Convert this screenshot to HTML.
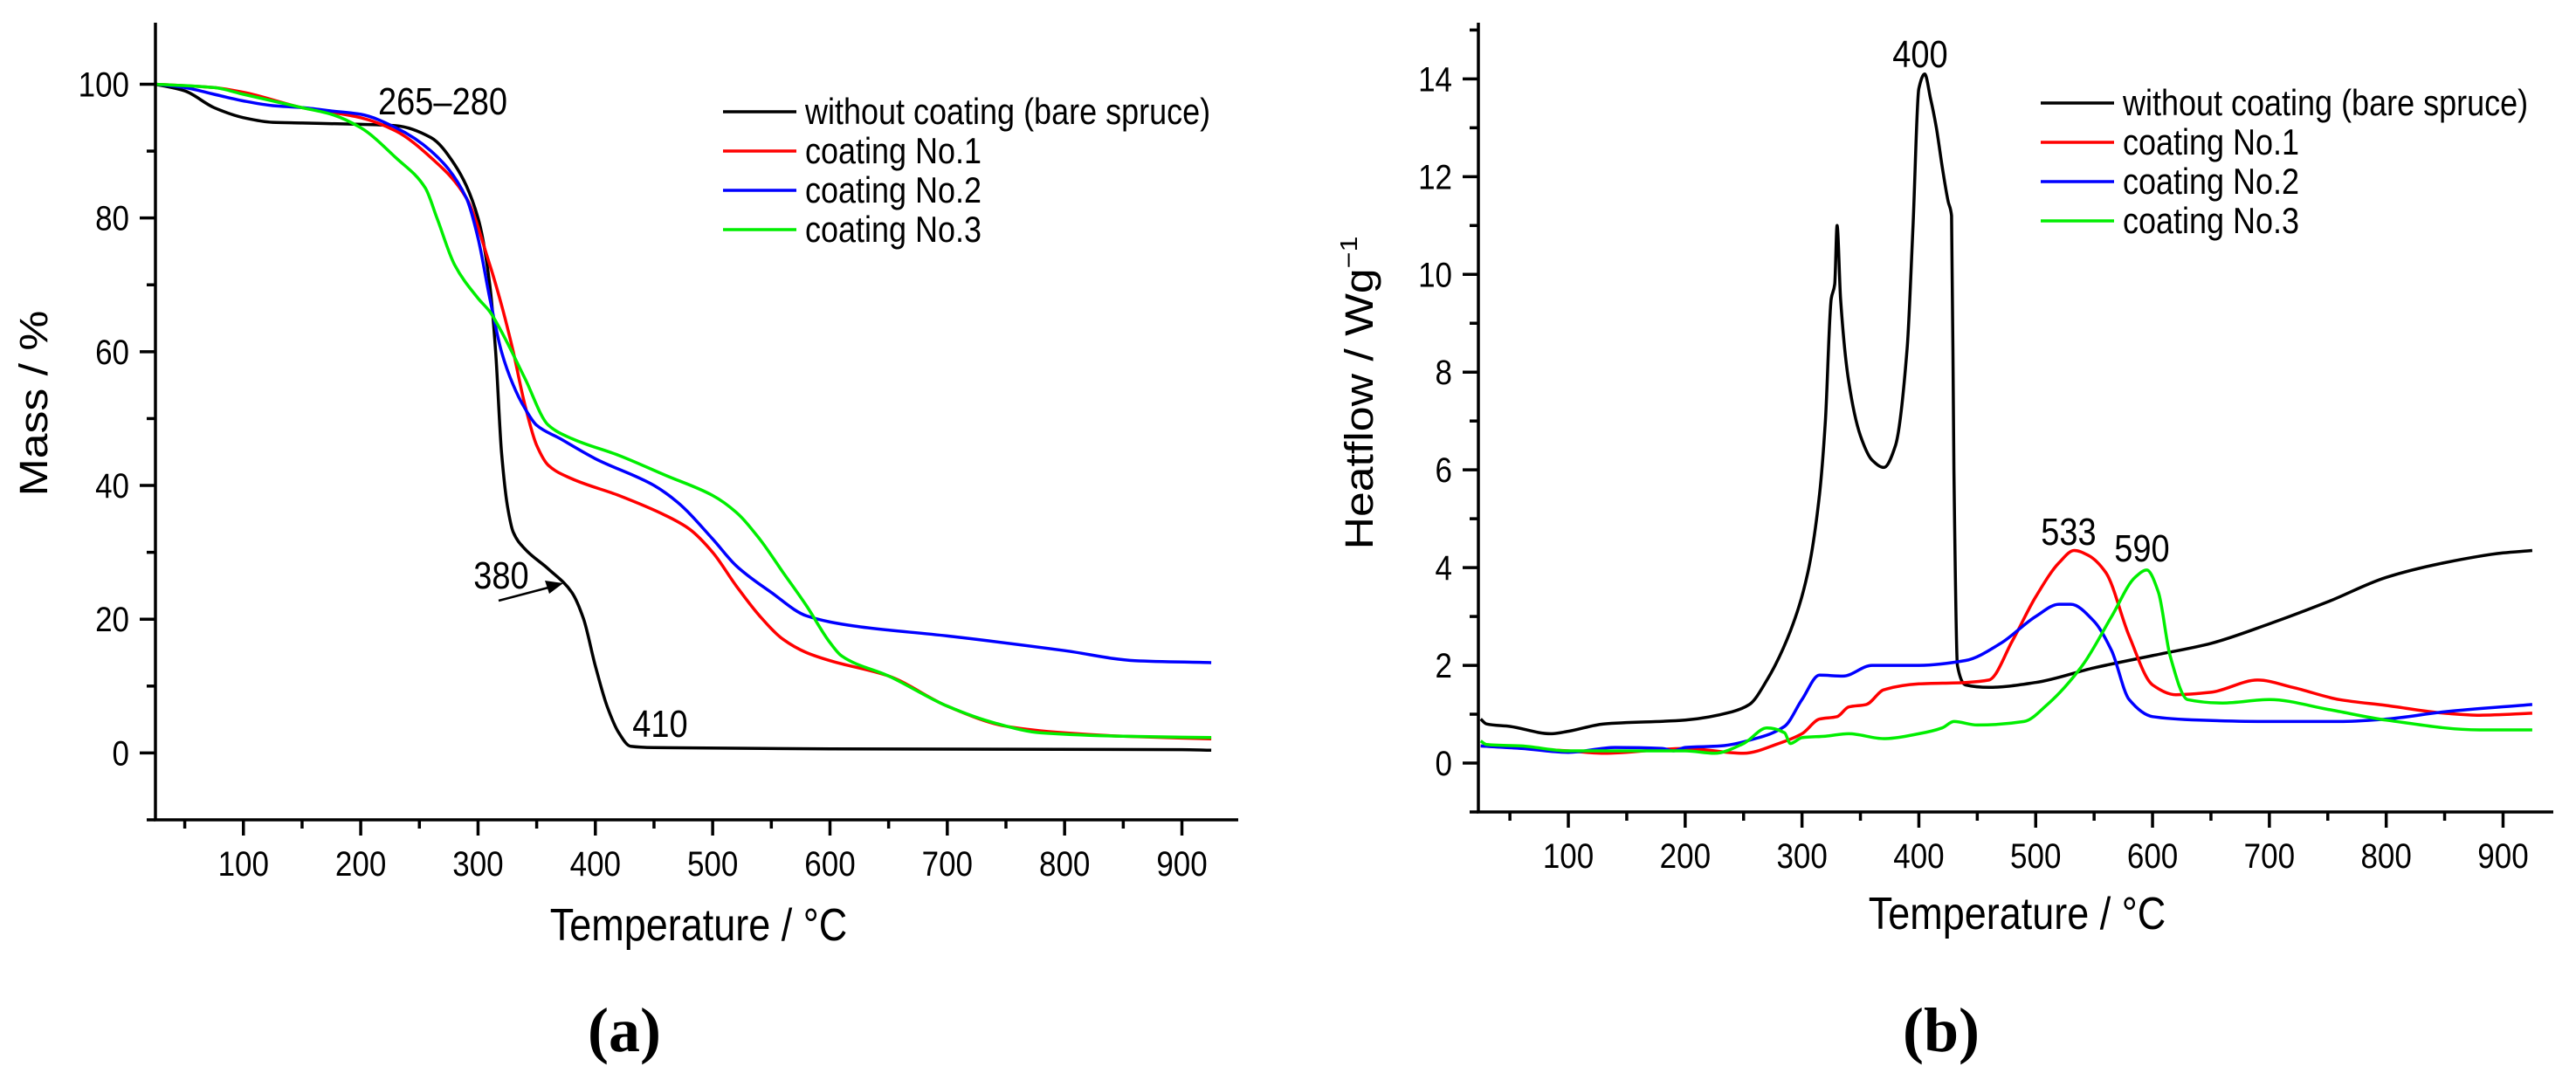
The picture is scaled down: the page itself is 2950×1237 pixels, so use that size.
<!DOCTYPE html>
<html><head><meta charset="utf-8"><style>
html,body{margin:0;padding:0;background:#fff;}
svg{display:block;font-family:"Liberation Sans",Arial,sans-serif;}
</style></head><body>
<svg id="fig" width="2950" height="1237" viewBox="0 0 2950 1237">
<rect width="2950" height="1237" fill="#fff"/>
</svg>
<script>
const NS="http://www.w3.org/2000/svg";
const svg=document.getElementById('fig');
const xTicks=[100,200,300,400,500,600,700,800,900];
const massTicks=[0,20,40,60,80,100];
const heatTicks=[0,2,4,6,8,10,12,14];
const seriesNames=["without coating (bare spruce)","coating No.1","coating No.2","coating No.3"];
const seriesColors=["#000000","#ff0000","#0000ff","#00ee00"];
const massBareT=[25,50,75,100,125,150,200,230,260,280,300,310,315,320,325,330,340,360,380,390,400,410,420,430,450,600,900,925];
const massBareV=[100,99,96.5,95,94.3,94.2,94,93.8,92,88,80,70,60,45,37,33,30.5,27.5,24,20,13,7,3,1,0.8,0.6,0.5,0.4];
const mass1T=[25,75,100,150,200,230,260,290,310,320,330,340,350,360,380,420,460,480,500,520,540,560,580,600,650,700,750,800,850,925];
const mass1V=[100,99.5,98.8,96.5,95,93,89,83,73,67,60,52,46,43,41,38.5,35.5,33.5,30,25,20.5,17,15,13.8,11.5,7,4,3,2.5,2.1];
const mass2T=[25,50,75,100,125,150,175,200,230,260,290,300,310,320,330,340,350,370,400,450,470,500,520,550,580,620,700,800,860,925];
const mass2V=[100,99.5,98.5,97.5,96.8,96.5,96,95.5,93.5,90,83,77,68,60,55,51.5,49,47,44,40,37.5,32,28,24,20.5,19,17.5,15.3,13.8,13.5];
const mass3T=[25,75,100,150,175,200,230,255,265,280,300,310,320,340,360,380,420,460,500,520,540,560,580,600,610,650,700,740,780,850,925];
const mass3V=[100,99.5,98.5,96.5,95.5,93.5,89,84.5,80,73,68,66,63,56,49,47,44.5,41.5,38.5,36,32,27,22,16.5,14.5,11.5,7,4.5,3,2.5,2.3];
const heatBareT=[25,30,50,85,100,130,200,240,255,270,290,305,315,320,325,328,330,333,340,350,360,370,380,390,395,400,405,410,415,420,425,428,430,433,440,460,500,550,600,650,700,750,800,850,900,925];
const heatBareV=[0.9,0.8,0.75,0.6,0.65,0.8,0.88,1.05,1.2,1.7,2.7,3.9,5.5,7,9.5,9.8,11,9.5,7.8,6.7,6.2,6.05,6.5,8.5,11,13.8,14.1,13.6,13,12.2,11.5,11.2,6,2,1.6,1.55,1.65,1.95,2.2,2.45,2.85,3.3,3.8,4.1,4.3,4.35];
const heat1T=[25,100,130,200,250,280,300,315,330,340,355,370,400,440,460,480,500,520,533,545,560,580,600,620,650,690,720,760,800,850,880,925];
const heat1V=[0.35,0.25,0.2,0.3,0.2,0.4,0.6,0.9,0.95,1.15,1.2,1.5,1.62,1.65,1.7,2.5,3.4,4.1,4.35,4.25,3.9,2.6,1.6,1.4,1.45,1.7,1.55,1.3,1.18,1.02,0.98,1.02];
const heat2T=[25,60,100,140,180,190,200,230,260,285,300,315,335,360,400,440,470,500,520,530,550,565,580,600,640,700,760,800,850,925];
const heat2V=[0.35,0.3,0.22,0.32,0.3,0.25,0.32,0.35,0.5,0.75,1.3,1.8,1.78,2.0,2.0,2.1,2.45,3.0,3.25,3.25,2.9,2.3,1.3,0.95,0.88,0.85,0.85,0.9,1.05,1.2];
const heat3T=[25,30,60,100,150,200,225,250,270,285,290,300,320,340,370,400,420,430,450,490,510,540,565,585,595,605,615,630,660,700,750,800,880,925];
const heat3V=[0.45,0.38,0.35,0.25,0.25,0.25,0.2,0.4,0.72,0.62,0.4,0.52,0.55,0.6,0.5,0.6,0.72,0.85,0.78,0.85,1.2,2.0,3.0,3.8,3.95,3.5,2.2,1.3,1.23,1.3,1.1,0.88,0.68,0.68];

function el(tag,attrs,parent){const e=document.createElementNS(NS,tag);for(const k in attrs)e.setAttribute(k,attrs[k]);(parent||svg).appendChild(e);return e;}
const SY=1.15;
function stext(x,y,s,size,anchor,parent){
  return el('text',{x:0,y:0,'font-size':size,'text-anchor':anchor,transform:`translate(${x},${y}) scale(1,${SY})`},parent);
}
// monotone cubic (Fritsch-Carlson) path through pixel points
function monoPath(px,py){
  const n=px.length, m=new Array(n), d=[];
  for(let i=0;i<n-1;i++)d.push((py[i+1]-py[i])/(px[i+1]-px[i]));
  m[0]=d[0];m[n-1]=d[n-2];
  for(let i=1;i<n-1;i++){
    if(d[i-1]*d[i]<=0)m[i]=0;
    else{const h0=px[i]-px[i-1],h1=px[i+1]-px[i];const w1=2*h1+h0,w2=h1+2*h0;m[i]=(w1+w2)/(w1/d[i-1]+w2/d[i]);}
  }
  let s=`M${px[0].toFixed(1)} ${py[0].toFixed(1)}`;
  for(let i=0;i<n-1;i++){
    const h=(px[i+1]-px[i])/3;
    s+=` C${(px[i]+h).toFixed(1)} ${(py[i]+m[i]*h).toFixed(1)} ${(px[i+1]-h).toFixed(1)} ${(py[i+1]-m[i+1]*h).toFixed(1)} ${px[i+1].toFixed(1)} ${py[i+1].toFixed(1)}`;
  }
  return s;
}

function drawChart(cfg){
  const g=el('g',{});
  
  
  const X=v=>cfg.x0+(v-cfg.xmin)*(cfg.x1-cfg.x0)/(cfg.xmax-cfg.xmin);
  const Y=v=>cfg.y0-(v-cfg.ymin)*(cfg.y0-cfg.y1)/(cfg.ymax-cfg.ymin);
  cfg.series.forEach((s,i)=>{
    const d=monoPath(s.t.map(X),s.v.map(Y));
    const p=el('path',{d:d,fill:'none',stroke:seriesColors[i],'stroke-width':3.5,'stroke-linejoin':'round'},g);
    
    
  });
  const ax=el('path',{d:`M${cfg.x0} ${cfg.y1} L${cfg.x0} ${cfg.y0} L${cfg.x1} ${cfg.y0}`,fill:'none',stroke:'#000','stroke-width':3.5},g);
  
  
  for(let v=50;v<=cfg.xmax;v+=50){
    const major=v%100===0;
    el('line',{x1:X(v),x2:X(v),y1:cfg.y0,y2:cfg.y0+(major?18:10),stroke:'#000','stroke-width':3.5},g);
  }
  xTicks.forEach(v=>{
    const t=stext(X(v),cfg.y0+64,v,35,'middle',g);
    t.textContent=v;
    
    
  });
  for(let v=cfg.ymin;v<=cfg.ymax;v+=cfg.yminor){
    const major=Math.abs(v/cfg.ymajor-Math.round(v/cfg.ymajor))<1e-6;
    el('line',{x1:cfg.x0-(major?18:10),x2:cfg.x0,y1:Y(v),y2:Y(v),stroke:'#000','stroke-width':3.5},g);
  }
  cfg.yTicks.forEach(v=>{
    const t=stext(cfg.x0-30,Y(v)+14,v,35,'end',g);
    t.textContent=v;
    
    
  });
  seriesNames.forEach((n,i)=>{
    const yy=cfg.legY+i*45;
    const ln=el('line',{x1:cfg.legX,x2:cfg.legX+84,y1:yy,y2:yy,stroke:seriesColors[i],'stroke-width':3.5},g);
    
    
    const t=stext(cfg.legX+94,yy+14,n,36,'start',g);
    t.textContent=n;
    
    
  });
  return {X,Y,g};
}

const A=drawChart({name:'mass-chart',prefix:'mass',x0:178,x1:1418,y0:939,y1:26,xmin:25,xmax:948,ymin:-10,ymax:109.2,ymajor:20,yminor:10,yTicks:massTicks,legX:828,legY:128,
  series:[{t:massBareT,v:massBareV},{t:mass1T,v:mass1V},{t:mass2T,v:mass2V},{t:mass3T,v:mass3V}]});
const B=drawChart({name:'heatflow-chart',prefix:'heat',x0:1693,x1:2924,y0:930,y1:26,xmin:23,xmax:943,ymin:-1,ymax:15.15,ymajor:2,yminor:1,yTicks:heatTicks,legX:2337,legY:118,
  series:[{t:heatBareT,v:heatBareV},{t:heat1T,v:heat1V},{t:heat2T,v:heat2V},{t:heat3T,v:heat3V}]});

function txt(x,y,s,size,name,extra,rot){
  const tr=`translate(${x},${y})`+(rot?' rotate(-90)':'')+` scale(1,${SY})`;
  const t=el('text',{x:0,y:0,'font-size':size,'text-anchor':'middle',transform:tr});
  if(extra)for(const k in extra)t.setAttribute(k,extra[k]);
  t.textContent=s;
  
  
  return t;
}
txt(800,1077,'Temperature / \u00B0C',45,'x-axis-title-a');
txt(2310,1064,'Temperature / \u00B0C',45,'x-axis-title-b');
const my=el('text',{x:0,y:0,'font-size':45,'text-anchor':'middle',transform:`translate(54,462) rotate(-90) scale(${SY},1)`});
my.textContent='Mass / %';


const hy=el('text',{x:0,y:0,'font-size':45,'text-anchor':'middle',transform:`translate(1572,450) rotate(-90) scale(${SY},1)`});
hy.innerHTML='Heatflow / Wg<tspan font-size="28" dy="-18">\u22121</tspan>';


const pa=el('text',{x:715,y:1204,'font-size':72,'text-anchor':'middle','font-family':'"Liberation Serif",serif','font-weight':'bold'});
pa.textContent='(a)';


const pb=el('text',{x:2223,y:1204,'font-size':72,'text-anchor':'middle','font-family':'"Liberation Serif",serif','font-weight':'bold'});
pb.textContent='(b)';


txt(507,131,'265\u2013280',38,'annotation-265-280');
txt(574,674,'380',38,'annotation-380');
txt(756,844,'410',38,'annotation-410');
txt(2199,77,'400',38,'annotation-400');
txt(2369,624,'533',38,'annotation-533');
txt(2453,643,'590',38,'annotation-590');
const ar=el('path',{d:'M571 688 L628 673',stroke:'#000','stroke-width':2.5});


const ah=el('path',{d:'M645 668 L624 665 L629 680 Z',fill:'#000'});


</script>
</body></html>
